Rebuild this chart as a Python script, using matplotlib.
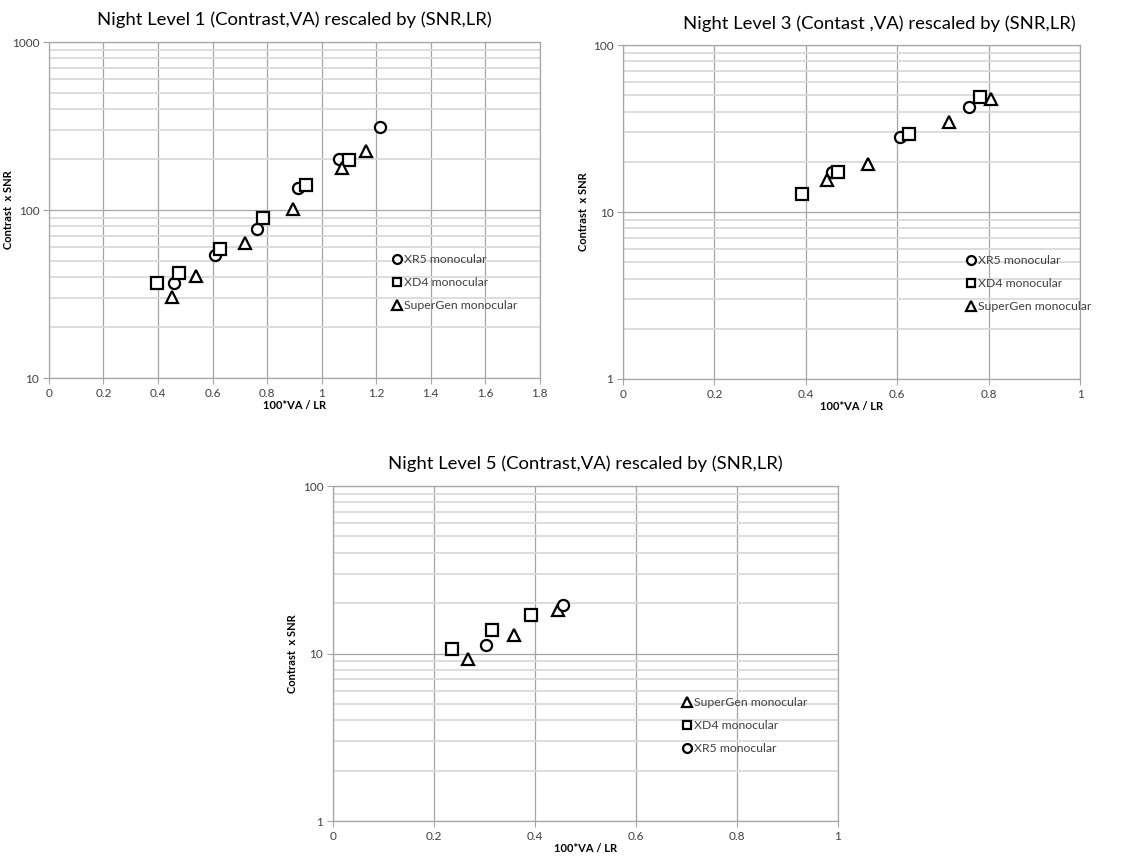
import numpy as np
import matplotlib.pyplot as plt
from matplotlib.ticker import LogLocator, FixedLocator, NullFormatter

plt.rcParams['font.family'] = ['Lato', 'DejaVu Sans']

# Night level 1
n1_xr5_x = [0.459, 0.609, 0.764, 0.912, 1.064, 1.214]
n1_xr5_y = [37.0, 53.8, 76.8, 134.5, 201.8, 312.6]
n1_xd4_x = [0.396, 0.476, 0.628, 0.785, 0.944, 1.099]
n1_xd4_y = [36.7, 42.1, 58.9, 90.1, 141.4, 197.3]
n1_sg_x = [0.450, 0.541, 0.718, 0.896, 1.075, 1.164]
n1_sg_y = [30.5, 40.5, 63.4, 101.8, 177.6, 225.0]

# Night level 3
n3_xr5_x = [0.457, 0.607, 0.758]
n3_xr5_y = [17.5, 28.0, 42.8]
n3_xd4_x = [0.391, 0.470, 0.626, 0.782]
n3_xd4_y = [12.9, 17.5, 29.4, 49.1]
n3_sg_x = [0.446, 0.537, 0.714, 0.804]
n3_sg_y = [15.6, 19.3, 34.9, 47.3]

# Night level 5
n5_sg_x = [0.268, 0.358, 0.445]
n5_sg_y = [9.23, 12.9, 18.1]
n5_xd4_x = [0.235, 0.314, 0.392]
n5_xd4_y = [10.7, 13.9, 17.1]
n5_xr5_x = [0.304, 0.455]
n5_xr5_y = [11.3, 19.4]

names = {'xr5': 'XR5 monocular', 'xd4': 'XD4 monocular', 'sg': 'SuperGen monocular'}
styles = {'xr5': ('o', 8), 'xd4': ('s', 8), 'sg': ('^', 8.5)}

fig = plt.figure(figsize=(11.23, 8.58), dpi=100)


def setup(ax, xmax, xstep, ymin, ymax, title, title_x=0.5, ylab_x=-0.072):
    ax.set_yscale('log')
    ax.set_xlim(0, xmax)
    ax.set_ylim(ymin, ymax)
    xt = np.round(np.arange(0, xmax + 1e-9, xstep), 2)
    ax.xaxis.set_major_locator(FixedLocator(xt))
    ax.xaxis.set_major_formatter(plt.FuncFormatter(lambda v, p: '%g' % v))
    ax.yaxis.set_major_locator(LogLocator(base=10))
    ax.yaxis.set_minor_locator(LogLocator(base=10, subs=np.arange(2, 10)))
    ax.yaxis.set_minor_formatter(NullFormatter())
    ax.yaxis.set_major_formatter(plt.FuncFormatter(lambda v, p: '%g' % v))
    ax.grid(True, which='major', axis='both', color='#a6a6a6', lw=0.9)
    ax.grid(True, which='minor', axis='y', color='#dadada', lw=1.3)
    ax.set_axisbelow(True)
    for s in ax.spines.values():
        s.set_color('#a6a6a6')
        s.set_linewidth(0.9)
    ax.tick_params(which='major', length=4, color='#a6a6a6', labelsize=8.5,
                   labelcolor='#404040', pad=3)
    ax.tick_params(which='minor', length=0)
    ax.set_xlabel('100*VA / LR', fontsize=8, fontweight='bold', labelpad=1)
    ax.set_ylabel('Contrast  x SNR', fontsize=8, fontweight='bold')
    ax.yaxis.set_label_coords(ylab_x, 0.5)
    ax.set_title(title, fontsize=13.3, x=title_x, pad=12)


def scatter(ax, key, xs, ys):
    m, s = styles[key]
    ax.plot(xs, ys, ls='none', marker=m, ms=s, mfc='white', mec='black',
            mew=1.6, label=names[key], clip_on=False)


ax1 = fig.add_axes([0.0436, 0.5594, 0.437, 0.3916])
setup(ax1, 1.8, 0.2, 10, 1000, 'Night Level 1 (Contrast,VA) rescaled by (SNR,LR)',
      ylab_x=-0.071)
scatter(ax1, 'xr5', n1_xr5_x, n1_xr5_y)
scatter(ax1, 'xd4', n1_xd4_x, n1_xd4_y)
scatter(ax1, 'sg', n1_sg_x, n1_sg_y)

ax2 = fig.add_axes([0.5548, 0.5583, 0.407, 0.389])
setup(ax2, 1.0, 0.2, 1, 100, 'Night Level 3 (Contast ,VA) rescaled by (SNR,LR)',
      title_x=0.56, ylab_x=-0.074)
scatter(ax2, 'xr5', n3_xr5_x, n3_xr5_y)
scatter(ax2, 'xd4', n3_xd4_x, n3_xd4_y)
scatter(ax2, 'sg', n3_sg_x, n3_sg_y)

ax3 = fig.add_axes([0.2965, 0.0431, 0.4497, 0.3904])
setup(ax3, 1.0, 0.2, 1, 100, 'Night Level 5 (Contrast,VA) rescaled by (SNR,LR)',
      ylab_x=-0.069)
scatter(ax3, 'sg', n5_sg_x, n5_sg_y)
scatter(ax3, 'xd4', n5_xd4_x, n5_xd4_y)
scatter(ax3, 'xr5', n5_xr5_x, n5_xr5_y)

for ax, (fx, fy) in [(ax1, (393, 254)), (ax2, (967, 255)), (ax3, (683, 697))]:
    leg = ax.legend(loc='upper left', bbox_to_anchor=(fx / 1123, 1 - fy / 858),
                    bbox_transform=fig.transFigure, frameon=False, fontsize=8.8,
                    handlelength=0.6, handletextpad=0.3, labelspacing=1.0,
                    borderpad=0, borderaxespad=0, markerscale=0.8)
    for t in leg.get_texts():
        t.set_color('#404040')

fig.savefig('out.png', dpi=100)
